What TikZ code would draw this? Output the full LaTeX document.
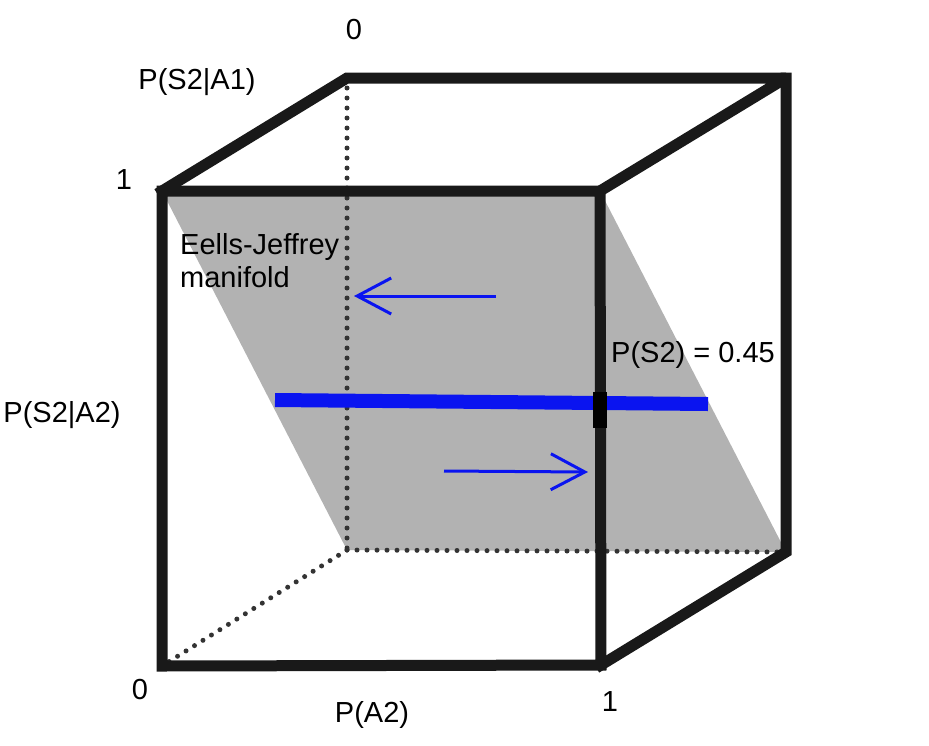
\documentclass[tikz,border=0pt]{standalone}
\usepackage{fontspec}
\setmainfont{Liberation Sans}
\usetikzlibrary{arrows.meta}
\definecolor{planegray}{RGB}{178,178,178}
\definecolor{arrowblue}{RGB}{10,20,240}
\begin{document}
\begin{tikzpicture}[x=1pt,y=-1pt,
  edge/.style={line width=11pt,line join=miter,miter limit=1.5,line cap=rect,black!90},
  hidden/.style={line width=5pt,line cap=round,dash pattern=on 0pt off 10pt,black!80},
  lbl/.style={font=\fontsize{29}{33}\selectfont,inner sep=0pt},
  flow/.style={arrowblue,line width=3pt,-{Straight Barb[length=34pt,width=36pt,line width=3pt]}}]
\useasboundingbox (0,0) rectangle (929,745);
% cube corners
\coordinate (FTL) at (162,191);
\coordinate (FTR) at (600,191);
\coordinate (FBR) at (601,665);
\coordinate (FBL) at (162,666);
\coordinate (BTL) at (347,78);
\coordinate (BTR) at (786,78);
\coordinate (BBR) at (786,552);
\coordinate (BBL) at (347,550);
% plane
\fill[planegray] (FTL) -- (FTR) -- (BBR) -- (BBL) -- cycle;
% hidden edges
\draw[hidden] (BTL) -- (BBL);
\draw[hidden] (BBL) -- (FBL);
\draw[hidden] (BBL) -- (BBR);
% visible edges
\draw[edge] (FTL) -- (BTL) -- (BTR) -- (FTR);
\draw[edge] (BTR) -- (BBR) -- (FBR);
\draw[edge] (FTL) -- (FTR) -- (FBR) -- (FBL) -- cycle;
% blue line
\coordinate (BL1) at (275,400);
\coordinate (BL2) at (708,404);
\draw[arrowblue,line width=14pt] (BL1) -- (BL2);
\node[fill=black,minimum width=14pt,minimum height=36pt,inner sep=0pt] (mark) at (600,410) {};
% arrows
\coordinate (A1s) at (496,296);
\coordinate (A1e) at (354,296);
\coordinate (A2s) at (444,471);
\coordinate (A2e) at (588,472);
\draw[flow] (A1s) -- (A1e);
\draw[flow] (A2s) -- (A2e);
% labels
\node[lbl] (z0) at (354,30) {0};
\node[lbl] (pa1) at (197,82) {P(S2|A1)};
\node[lbl] (one1) at (124,180) {1};
\node[lbl,anchor=west,align=left] (ej) at (180,261) {Eells-Jeffrey\\manifold};
\node[lbl,anchor=west] (ps2) at (611,355) {P(S2) = 0.45};
\node[lbl] (pa2) at (62,415) {P(S2|A2)};
\node[lbl] (z1) at (140,690) {0};
\node[lbl] (pA2) at (372,715) {P(A2)};
\node[lbl] (one2) at (610,702) {1};
\end{tikzpicture}
\end{document}
